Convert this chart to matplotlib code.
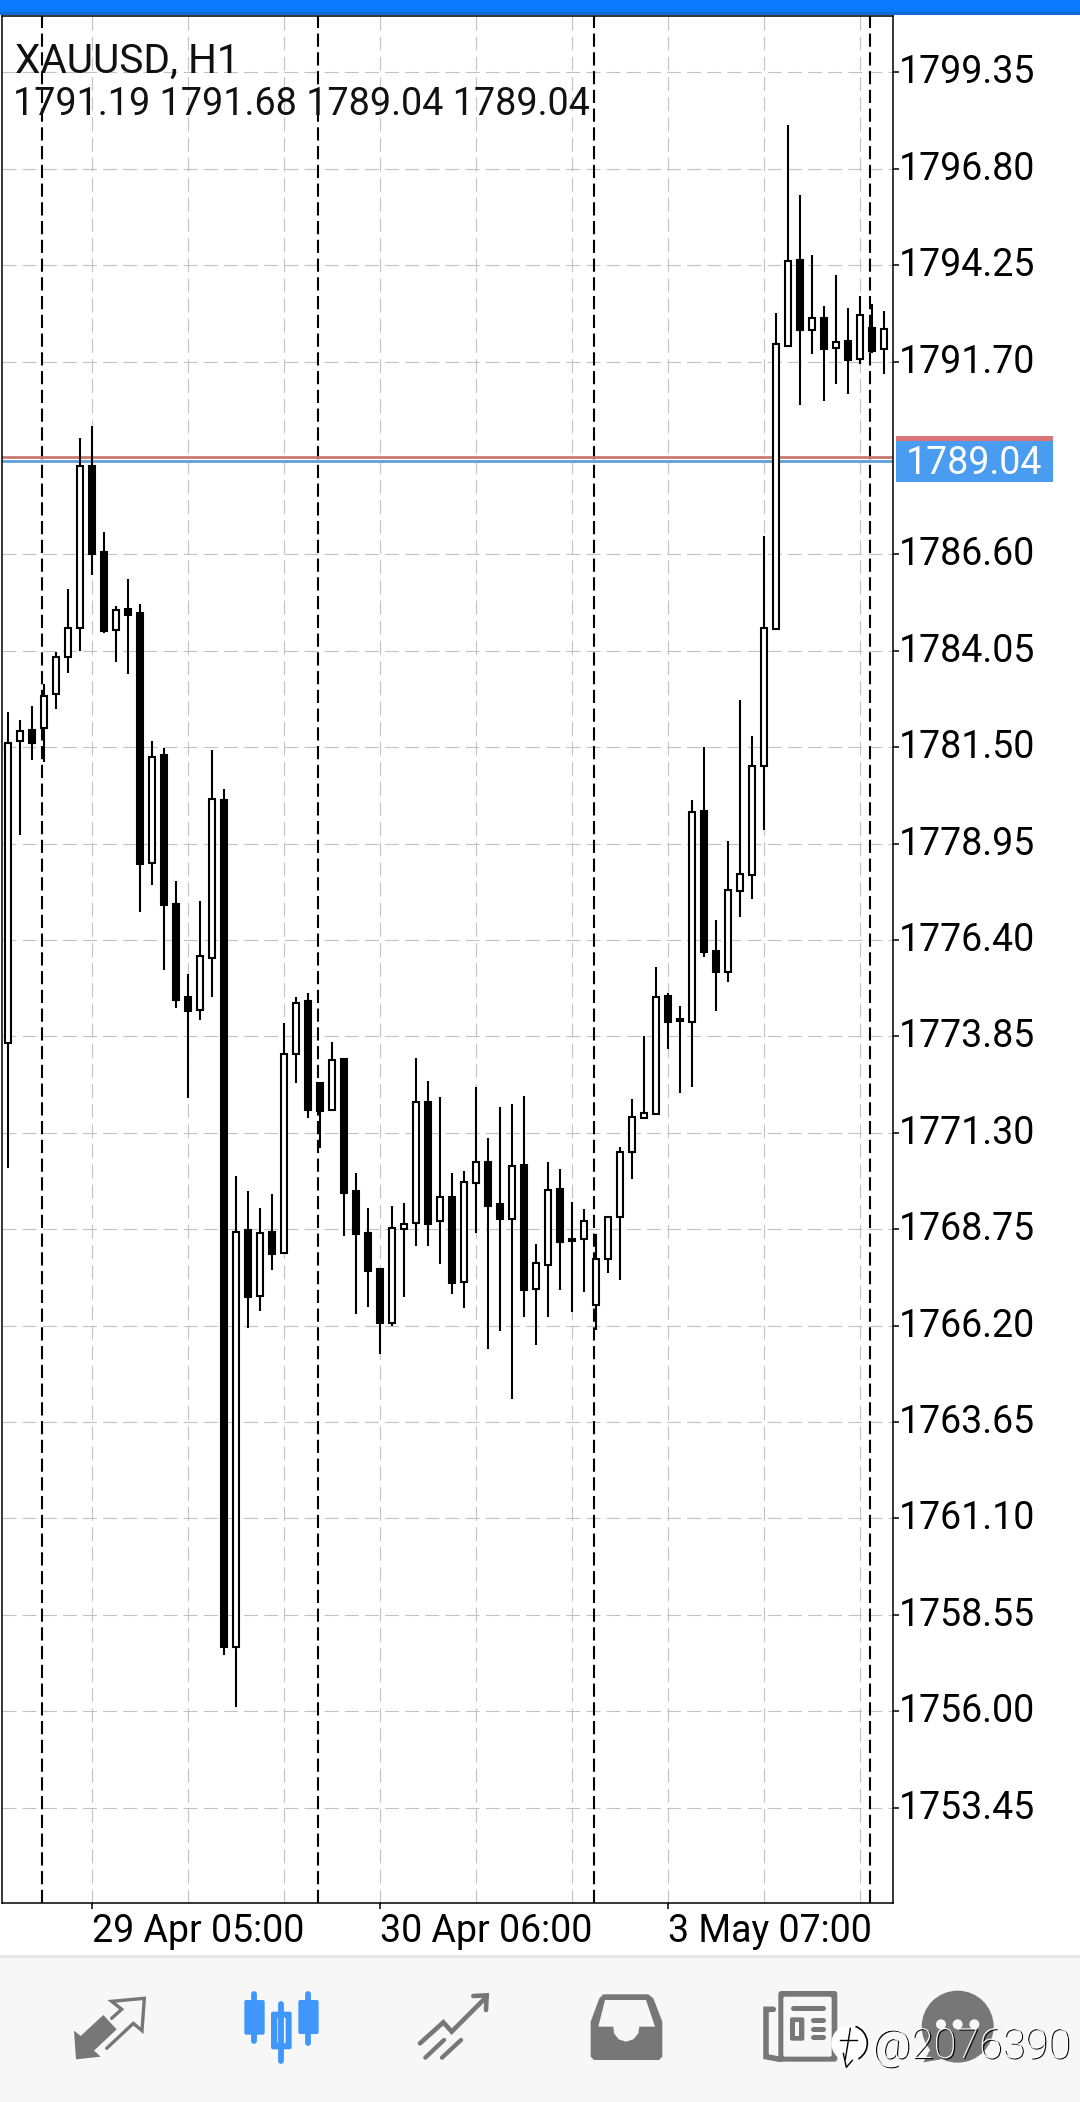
# XAUUSD H1 candles as shown on a phone trading app
import matplotlib
matplotlib.use("Agg")
import matplotlib.pyplot as plt
import matplotlib.patheffects as pe
from matplotlib.patches import Rectangle, Polygon, Circle, Ellipse, Arc, FancyBboxPatch
from matplotlib.transforms import ScaledTranslation

plt.rcParams['font.family'] = ['Roboto', 'DejaVu Sans']
plt.rcParams['lines.scale_dashes'] = False

# candle data, one value per hourly bar
opens = [1773.67, 1781.66, 1781.95, 1782.00, 1782.91, 1783.88, 1784.65, 1788.94, 1786.66, 1784.59,
         1785.16, 1785.05, 1778.43, 1781.29, 1777.35, 1774.89, 1774.54, 1775.92, 1780.10, 1757.71,
         1768.72, 1766.98, 1768.67, 1768.11, 1773.38, 1774.79, 1772.61, 1771.90, 1773.25, 1769.75,
         1768.64, 1767.69, 1766.26, 1768.76, 1768.92, 1772.11, 1768.96, 1769.60, 1767.35, 1769.97,
         1770.53, 1769.42, 1769.01, 1770.44, 1767.16, 1767.80, 1769.81, 1768.49, 1768.49, 1766.75,
         1767.96, 1769.08, 1770.79, 1771.69, 1771.79, 1774.92, 1774.30, 1774.22, 1779.80, 1776.10,
         1775.55, 1777.69, 1778.12, 1781.00, 1784.63, 1792.10, 1794.38, 1792.53, 1792.84, 1792.06,
         1792.24, 1791.76, 1792.58, 1792.03]
closes = [1781.62, 1781.94, 1781.62, 1782.85, 1783.89, 1784.66, 1788.95, 1786.61, 1784.57, 1785.14,
          1785.00, 1778.42, 1781.23, 1777.33, 1774.82, 1774.51, 1775.99, 1780.12, 1757.71, 1768.69,
          1766.97, 1768.66, 1768.10, 1773.39, 1774.74, 1771.90, 1771.89, 1773.23, 1769.72, 1768.63,
          1767.65, 1766.28, 1768.77, 1768.90, 1772.12, 1768.90, 1769.59, 1767.34, 1770.01, 1770.54,
          1769.37, 1769.02, 1770.41, 1767.14, 1767.87, 1769.80, 1768.40, 1768.44, 1768.98, 1767.96,
          1769.08, 1770.78, 1771.71, 1771.83, 1774.88, 1774.24, 1774.25, 1779.79, 1776.09, 1775.56,
          1777.73, 1778.14, 1781.01, 1784.64, 1792.16, 1794.37, 1792.54, 1792.85, 1792.04, 1792.22,
          1791.75, 1792.94, 1791.99, 1792.57]
highs = [1782.42, 1782.22, 1782.59, 1783.16, 1784.01, 1785.68, 1789.68, 1790.00, 1787.18, 1785.23,
         1785.95, 1785.29, 1781.66, 1781.47, 1777.95, 1775.49, 1777.43, 1781.42, 1780.40, 1770.16,
         1769.76, 1769.31, 1769.68, 1774.20, 1774.89, 1774.99, 1772.62, 1773.69, 1773.25, 1770.23,
         1769.31, 1767.69, 1769.36, 1769.44, 1773.27, 1772.66, 1772.25, 1770.23, 1770.29, 1772.51,
         1771.16, 1771.98, 1772.06, 1772.27, 1768.36, 1770.53, 1770.34, 1769.46, 1769.28, 1768.62,
         1769.08, 1770.92, 1772.20, 1773.86, 1775.69, 1774.99, 1774.66, 1780.10, 1781.51, 1776.93,
         1779.01, 1782.75, 1781.80, 1787.09, 1792.98, 1797.96, 1796.10, 1794.52, 1793.17, 1793.98,
         1793.11, 1793.43, 1793.21, 1793.04]
lows = [1770.38, 1779.18, 1781.16, 1781.12, 1782.51, 1783.46, 1784.05, 1786.05, 1784.53, 1783.75,
        1783.44, 1777.15, 1777.86, 1775.61, 1774.61, 1772.22, 1774.29, 1774.88, 1757.48, 1756.12,
        1766.15, 1766.60, 1767.67, 1768.11, 1772.63, 1771.70, 1770.91, 1771.90, 1768.58, 1766.52,
        1766.70, 1765.45, 1766.20, 1766.97, 1768.32, 1768.32, 1767.84, 1767.05, 1766.67, 1768.66,
        1765.59, 1766.07, 1764.27, 1766.43, 1765.69, 1766.43, 1767.14, 1766.57, 1767.09, 1766.09,
        1767.59, 1767.41, 1770.08, 1771.69, 1771.79, 1773.53, 1772.36, 1772.52, 1775.96, 1774.53,
        1775.30, 1777.02, 1777.49, 1779.32, 1784.63, 1792.10, 1790.56, 1791.90, 1790.66, 1791.11,
        1790.85, 1791.63, 1791.92, 1791.38]

price_ticks = [1799.35, 1796.80, 1794.25, 1791.70, 1786.60, 1784.05, 1781.50, 1778.95, 1776.40,
               1773.85, 1771.30, 1768.75, 1766.20, 1763.65, 1761.10, 1758.55, 1756.00, 1753.45]
date_ticks = [7, 31, 55]
date_labels = ['29 Apr 05:00', '30 Apr 06:00', '3 May 07:00']
minor_grid = [15, 23, 39, 47, 63, 71]
period_seps = [2.83, 25.83, 48.83, 71.83]
bid_level = 1789.08
ask_level = 1789.175
bid_label = '1789.04'
symbol = 'XAUUSD, H1'
ohlc_header = ['1791.19', '1791.68', '1789.04', '1789.04']
watermark = '@2076390'

W, H = 1080, 2102
GRID = '#c2c2c2'
ICON = '#777777'
BLUE = '#3f97fb'
BAR_BG = '#f7f7f7'

fig = plt.figure(figsize=(W / 100, H / 100), dpi=100, facecolor='white')

# chart frame, pixel box 2..893 x 15.5..1903
ax = fig.add_axes([2 / W, 1 - 1903 / H, 891 / W, 1887.5 / H])
ax.set_xlim(-0.5, 73.75)
ax.set_ylim(1750.93, 1800.852)

# grid
ax.yaxis.tick_right()
ax.set_yticks(price_ticks)
ax.set_yticklabels(['%.2f' % p for p in price_ticks], fontsize=27)
ax.set_xticks(date_ticks)
ax.set_xticklabels(date_labels, fontsize=27, ha='left')
ax.set_xticks(minor_grid, minor=True)
ax.tick_params(axis='y', length=4, width=1.1, pad=0.5)
ax.tick_params(axis='x', length=4, width=1.1, pad=3)
ax.tick_params(axis='x', which='minor', length=0)
ax.grid(True, which='both', color=GRID, linewidth=0.8, linestyle=(0, (10, 4.5)), zorder=1)
ax.set_axisbelow(True)
for s in ax.spines.values():
    s.set_linewidth(1.1)
    s.set_color('black')

# the app draws price labels a little above their grid line
up = ScaledTranslation(0, 3.5 / 100, fig.dpi_scale_trans)
for lab in ax.get_yticklabels():
    lab.set_transform(lab.get_transform() + up)

# period separators
for x in period_seps:
    ax.axvline(x, color='black', linewidth=1.5, linestyle=(0, (9.5, 4)), zorder=2)

# bid and ask lines
ax.axhline(ask_level, color='#c77b70', linewidth=2, zorder=2.2)
ax.axhline(bid_level, color='#5f9fd8', linewidth=2, zorder=2.2)

# candles
xs = list(range(len(opens)))
ax.vlines(xs, lows, highs, color='black', linewidth=1.5, zorder=2.5)
for i in xs:
    bottom = min(opens[i], closes[i])
    height = abs(closes[i] - opens[i])
    if closes[i] >= opens[i]:
        ax.bar(i, height, bottom=bottom, width=0.45, facecolor='white', edgecolor='black',
               linewidth=1.5, zorder=3)
    else:
        ax.bar(i, height, bottom=bottom, width=0.5, facecolor='black', edgecolor='black',
               linewidth=1.5, zorder=3)

# overlay in pixel coordinates for the app chrome
ov = fig.add_axes([0, 0, 1, 1])
ov.set_xlim(0, W)
ov.set_ylim(H, 0)
ov.axis('off')

ov.add_patch(Rectangle((0, 0), W, 12, facecolor='#0a78ff', edgecolor='none'))
ov.add_patch(Rectangle((0, 12), W, 2.5, facecolor='#0c6cd8', edgecolor='none'))

ov.text(15, 72.5, symbol, fontsize=29.2, color='#111111', va='baseline', ha='left')
ov.text(13, 115, ' '.join(ohlc_header), fontsize=27.2, color='#111111', va='baseline', ha='left')

# current price label
ov.add_patch(Rectangle((896, 436), 157, 5, facecolor='#d9757a', edgecolor='none'))
ov.add_patch(Rectangle((896, 441), 157, 41, facecolor='#4a9cf0', edgecolor='none'))
ov.text(974.5, 463.5, bid_label, fontsize=27, color='white', va='center', ha='center')

# bottom toolbar
ov.add_patch(Rectangle((0, 1957), W, H - 1957, facecolor=BAR_BG, edgecolor='none'))
ov.add_patch(Rectangle((0, 1955), W, 3, facecolor='#e6e6e6', edgecolor='none'))


def left(pts):
    return [(60 + a / 3, 1960 + b / 3) for a, b in pts]


def right(pts):
    return [(560 + a / 3, 1960 + b / 3) for a, b in pts]


def stroke(pts, color=ICON, lw=2.4):
    xx, yy = zip(*pts)
    ov.plot(xx, yy, color=color, linewidth=lw, solid_capstyle='round', solid_joinstyle='miter')


def rbox(x0, y0, x1, y1, color, r=2.0):
    ov.add_patch(FancyBboxPatch((x0 + r, y0 + r), x1 - x0 - 2 * r, y1 - y0 - 2 * r,
                                boxstyle='round,pad=%f' % r, facecolor=color, edgecolor='none'))


# trade arrows
ov.add_patch(Polygon(left([(42, 212), (62, 228), (130, 165), (170, 208), (102, 272), (122, 290), (48, 298)]),
                     facecolor=ICON, edgecolor='none'))
stroke(left([(155, 175), (185, 148), (155, 124), (253, 115), (246, 212), (220, 190), (140, 265)]))

# candles icon
for wx, wt, wb, x0, x1, t, b in [(583, 95, 252, 553, 614, 120, 224),
                                 (664, 125, 312, 633, 695, 155, 268),
                                 (745, 95, 258, 715, 776, 120, 222)]:
    stroke(left([(wx, wt + 8), (wx, wb - 8)]), color=BLUE, lw=4.2)
    a0, b0 = left([(x0, t)])[0]
    a1, b1 = left([(x1, b)])[0]
    rbox(a0, b0, a1, b1, BLUE)
a0, b0 = left([(652, 172)])[0]
a1, b1 = left([(677, 250)])[0]
rbox(a0, b0, a1, b1, BAR_BG, r=1.5)

# signals icon
stroke(left([(1080, 250), (1150, 187), (1175, 215), (1280, 110)]), lw=3.3)
stroke(left([(1240, 108), (1280, 106), (1278, 150)]), lw=3.3)
stroke(left([(1096, 293), (1152, 240)]), lw=3.1)
stroke(left([(1146, 293), (1203, 240)]), lw=3.1)

# mailbox icon
ov.add_patch(Polygon(right([(130, 103), (265, 103), (280, 115), (307, 185), (307, 290), (297, 300),
                            (102, 300), (92, 290), (92, 185), (118, 115)]),
                     facecolor=ICON, edgecolor='none'))
ov.add_patch(Polygon(right([(135, 120), (258, 120), (285, 200), (238, 200), (235, 220), (220, 238),
                            (198, 245), (176, 238), (162, 220), (160, 200), (115, 200)]),
                     facecolor=BAR_BG, edgecolor='none'))

# news icon
stroke(right([(640, 148), (618, 148), (618, 290), (660, 298)]), lw=4)
a0, b0 = right([(655, 93)])[0]
a1, b1 = right([(832, 305)])[0]
rbox(a0, b0, a1, b1, ICON, r=3)
a0, b0 = right([(670, 110)])[0]
a1, b1 = right([(815, 290)])[0]
rbox(a0, b0, a1, b1, BAR_BG, r=2)
stroke(right([(700, 143), (788, 143)]), lw=3.6)
for ly in [180, 206, 232]:
    stroke(right([(760, ly), (790, ly)]), lw=3.6)
a0, b0 = right([(690, 172)])[0]
a1, b1 = right([(733, 242)])[0]
rbox(a0, b0, a1, b1, ICON, r=2)
a0, b0 = right([(705, 187)])[0]
a1, b1 = right([(716, 227)])[0]
ov.add_patch(Rectangle((a0, b0), a1 - a0, b1 - b0, facecolor=BAR_BG, edgecolor='none'))

# chat icon
cx, cy = right([(1193, 200)])[0]
ov.add_patch(Circle((cx, cy), 36, facecolor=ICON, edgecolor='none', zorder=4))
ov.add_patch(Polygon(right([(1110, 270), (1090, 307), (1160, 295)]), facecolor=ICON, edgecolor='none', zorder=4))
for dz in [1143, 1193, 1243]:
    dx, dy = right([(dz, 193)])[0]
    ov.add_patch(Circle((dx, dy), 5, facecolor=BAR_BG, edgecolor='none', zorder=5))

# watermark on top of the toolbar
ex, ey = right([(868, 250)])[0]
ov.add_patch(Ellipse((ex, ey), 36, 36, facecolor='white', edgecolor='none', zorder=6))
ov.add_patch(Arc((ex, ey), 36, 36, theta1=-70, theta2=60, color='black', linewidth=1.2, zorder=7))
ov.plot([ex - 9, ex + 8], [ey - 3, ey - 3], color='black', linewidth=1, zorder=7)
ov.plot([ex - 6, ex - 3, ex + 3], [ey + 10, ey + 24, ey + 17], color='black', linewidth=1, zorder=7)
ov.plot([ex + 1, ex - 4], [ey - 15, ey + 16], color='black', linewidth=1, zorder=7)
ov.text(872, 2058, watermark, fontsize=30, color='white', va='baseline', ha='left', zorder=8,
        fontweight='light',
        path_effects=[pe.SimplePatchShadow(offset=(1.0, -0.8), shadow_rgbFace='black', alpha=1), pe.Normal()])

fig.savefig('out.png', dpi=100)
